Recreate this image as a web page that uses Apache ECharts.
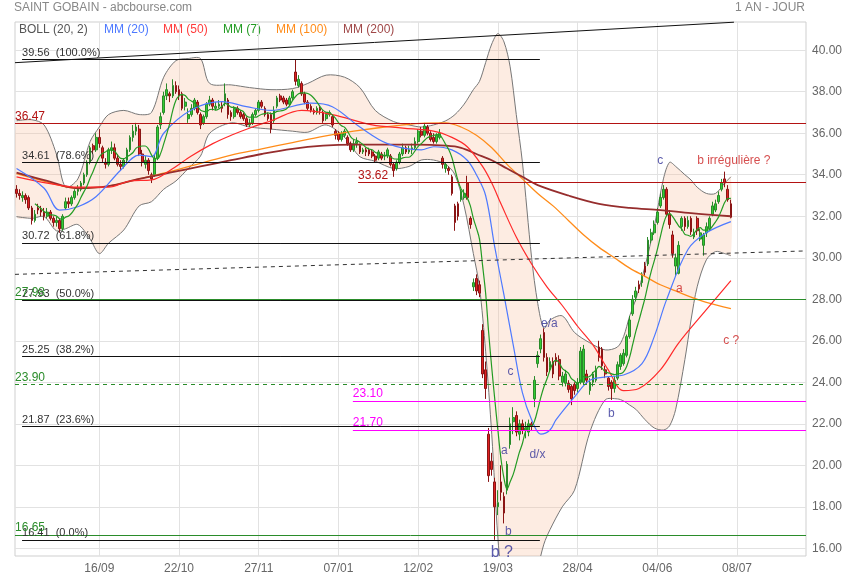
<!DOCTYPE html>
<html><head><meta charset="utf-8">
<script src="https://cdn.jsdelivr.net/npm/echarts@6/dist/echarts.min.js"></script>
<style>html,body{margin:0;padding:0;background:#fff}#c{width:855px;height:580px}</style>
</head><body><div id="c"></div>
<script>
// ---------- data ----------
const tickIdx = [27, 53, 79, 105, 131, 157, 183, 209, 235];
const tickLabels = ['16/09', '22/10', '27/11', '07/01', '12/02', '19/03', '28/04', '04/06', '08/07'];
const yTicks = [16, 18, 20, 22, 24, 26, 28, 30, 32, 34, 36, 38, 40];

// daily candles: [open, close, low, high]
const ohlc = [
[33.3,33.1,32.9,33.5],[33.1,33.0,32.8,33.3],[32.9,33.0,32.7,33.2],[33.0,32.8,32.6,33.1],[32.9,32.4,32.3,33.0],
[32.4,31.8,31.6,32.5],[31.8,32.1,31.7,32.3],[32.4,32.3,32.1,32.6],[32.3,32.2,32.0,32.5],[32.2,32.0,31.8,32.4],
[32.0,32.2,31.9,32.4],[32.2,31.9,31.8,32.3],[31.9,31.7,31.5,32.0],[31.7,31.8,31.5,32.0],[31.8,31.4,31.2,31.9],
[31.4,32.0,31.3,32.1],[32.4,32.7,32.3,32.9],[32.7,32.6,32.4,32.9],[32.6,32.9,32.5,33.0],[32.9,33.2,32.8,33.3],
[33.2,33.3,33.0,33.5],[33.3,33.6,33.2,33.7],[33.6,34.0,33.5,34.1],[34.0,34.6,33.9,34.7],[34.6,35.3,34.5,35.4],
[35.4,35.2,35.0,35.5],[35.2,35.8,35.1,36.0],[35.8,35.5,35.3,36.2],[35.3,34.8,34.6,35.4],[34.6,34.5,34.3,34.8],
[34.5,35.2,34.4,35.3],[35.2,35.3,35.0,35.6],[35.3,34.8,34.7,35.5],[34.8,34.5,34.4,35.0],[34.5,34.4,34.2,34.7],
[34.4,34.7,34.3,34.8],[34.7,35.2,34.6,35.3],[35.2,35.8,35.1,35.9],[35.8,36.1,35.6,36.4],[36.1,36.3,35.9,36.5],
[36.2,35.0,34.9,36.4],[35.0,34.6,34.4,35.2],[34.5,34.7,34.3,34.9],[34.7,34.2,34.0,34.8],[34.0,33.8,33.6,34.1],
[34.0,34.8,33.9,35.0],[34.8,36.3,34.7,36.4],[36.4,36.8,36.2,37.0],[37.0,37.8,36.9,38.0],[37.8,38.1,37.6,38.4],
[37.9,37.8,37.5,38.0],[37.8,38.3,37.7,38.6],[38.3,38.0,37.9,38.5],[38.1,37.8,37.6,38.3],[37.9,37.2,37.1,38.0],
[37.3,37.5,37.1,37.7],[36.7,36.9,36.5,37.2],[36.9,37.2,36.8,37.4],[37.2,37.6,37.1,37.7],[37.5,37.0,36.9,37.6],
[36.9,36.4,36.2,37.0],[36.5,36.8,36.4,36.9],[36.8,37.4,36.7,37.5],[37.4,37.6,37.3,37.8],[37.6,37.3,37.1,37.7],
[37.2,37.3,37.1,37.5],[37.3,37.4,37.2,37.6],[37.3,37.2,37.0,37.5],[37.5,37.9,37.3,38.4],[37.6,36.9,36.7,37.7],
[37.0,36.8,36.6,37.1],[36.8,37.2,36.7,37.3],[37.2,37.0,36.9,37.3],[37.0,36.8,36.7,37.1],[36.9,36.7,36.6,37.0],
[36.7,36.4,36.3,36.8],[36.4,36.5,36.3,36.7],[36.5,36.9,36.4,37.0],[36.9,37.1,36.8,37.2],[37.1,37.5,37.0,37.6],
[37.5,37.3,37.2,37.6],[37.2,36.9,36.8,37.3],[36.9,36.7,36.6,37.0],[36.9,36.2,36.0,37.0],[36.6,37.1,36.5,37.3],
[37.3,37.7,37.2,37.8],[37.8,37.6,37.5,37.9],[37.7,37.5,37.4,37.8],[37.6,37.4,37.3,37.7],[37.4,37.7,37.3,37.8],
[37.7,38.0,37.6,38.1],[38.95,38.5,38.3,39.56],[38.3,38.6,38.2,38.8],[38.4,37.9,37.8,38.5],[37.9,37.5,37.4,38.0],
[37.5,37.2,37.1,37.6],[37.3,37.1,37.0,37.4],[37.1,37.0,36.9,37.2],[37.0,37.2,36.9,37.3],[37.2,37.1,36.9,37.3],
[37.0,36.6,36.5,37.1],[36.7,36.9,36.6,37.0],[36.9,37.0,36.8,37.1],[36.8,36.4,36.3,36.9],[36.1,35.9,35.7,36.2],
[36.0,35.7,35.6,36.1],[35.7,36.0,35.6,36.1],[35.9,36.1,35.8,36.2],[35.8,35.5,35.4,35.9],[35.5,35.2,35.1,35.6],
[35.2,35.5,35.1,35.7],[35.5,35.6,35.3,35.8],[35.4,35.1,35.0,35.5],[35.1,35.2,35.0,35.3],[35.2,35.1,34.9,35.3],
[35.2,35.0,34.9,35.3],[35.1,34.9,34.8,35.2],[34.9,34.7,34.6,35.0],[34.8,35.1,34.7,35.2],[35.0,34.8,34.7,35.1],
[34.9,34.9,34.7,35.1],[34.9,35.2,34.8,35.3],[34.9,34.5,34.4,35.0],[34.5,34.2,33.9,34.6],[34.3,34.6,34.2,34.7],
[34.6,35.0,34.5,35.1],[35.0,35.3,34.9,35.5],[35.3,35.1,35.0,35.4],[35.1,35.2,35.0,35.4],[35.2,35.3,35.0,35.5],
[35.3,35.6,35.2,35.8],[35.6,36.1,35.5,36.2],[36.1,35.9,35.8,36.3],[35.9,36.35,35.8,36.5],[36.3,36.0,35.9,36.4],
[36.0,35.7,35.6,36.1],[35.8,35.6,35.5,36.0],[35.6,35.9,35.5,36.0],[35.8,36.0,35.7,36.2],[34.8,34.5,34.3,34.9],
[34.3,34.5,34.1,34.6],[34.3,34.2,34.0,34.4],[33.9,33.1,33.0,34.0],[32.5,31.7,31.3,32.6],[32.6,32.0,31.8,32.7],
[32.8,33.2,32.7,33.3],[32.9,33.1,32.8,33.3],[33.6,32.9,32.8,33.95],[31.9,31.6,31.4,32.0],[28.6,28.8,28.4,29.0],
[29.0,28.4,28.2,29.2],[28.7,28.3,28.1,28.9],[26.5,24.4,24.2,26.8],[24.6,23.7,23.2,25.0],[21.5,19.5,19.2,21.8],
[20.2,19.8,19.5,20.6],[19.2,18.0,16.41,19.4],[18.0,18.2,17.6,18.8],[19.2,18.7,18.3,20.0],[18.5,17.7,17.2,18.7],
[18.8,20.05,18.6,20.2],[21.0,22.0,20.8,22.3],[22.1,22.3,21.5,22.8],[22.4,21.6,21.4,22.6],[21.5,22.0,21.2,22.2],
[22.0,21.7,21.5,22.2],[21.7,21.8,21.3,22.1],[21.6,22.0,21.4,22.2],[22.0,21.9,21.7,22.1],[23.2,24.1,22.8,24.3],
[24.9,25.3,24.7,25.5],[25.6,26.1,25.4,26.3],[26.4,25.2,25.0,26.6],[25.2,24.5,24.3,25.4],[24.7,25.0,24.5,25.2],
[25.0,24.4,24.2,25.2],[25.2,25.0,24.8,25.4],[25.1,24.3,24.1,25.3],[24.0,24.3,23.8,24.5],[23.95,24.4,23.8,24.6],
[23.95,23.65,23.5,24.1],[23.8,23.2,22.9,23.9],[23.9,23.6,23.4,24.0],[23.7,24.0,23.5,24.2],[24.0,25.5,23.9,25.7],
[24.0,25.6,23.9,25.8],[24.4,24.1,23.9,24.6],[23.6,24.0,23.4,24.2],[24.0,24.4,23.8,24.5],[24.1,24.6,24.0,24.8],
[25.7,25.2,25.0,26.0],[25.6,24.8,24.6,25.7],[24.6,24.4,24.2,24.8],[24.2,23.8,23.6,24.3],[24.0,23.7,23.15,24.1],
[23.7,24.1,23.5,24.3],[24.2,24.85,24.1,25.0],[24.76,25.3,24.6,25.4],[24.9,25.4,24.8,25.6],[25.3,26.2,25.2,26.3],
[26.2,27.0,26.1,27.2],[27.3,28.0,27.2,28.2],[28.1,28.4,27.9,28.6],[28.7,28.5,28.3,28.9],[28.8,29.1,28.6,29.3],
[29.6,29.3,29.1,29.8],[29.7,30.85,29.6,31.0],[30.85,31.2,30.7,31.4],[31.2,31.6,31.1,31.8],[31.7,32.2,31.6,32.4],
[32.5,32.9,32.4,33.1],[32.9,33.3,32.8,33.5],[33.3,32.1,32.0,33.4],[32.1,31.6,31.4,32.3],[31.1,30.2,30.0,31.3],
[29.6,30.0,29.1,30.2],[29.25,30.6,29.2,30.8],[31.5,31.9,31.3,32.0],[31.9,31.5,31.3,32.0],[31.5,31.8,31.4,32.0],
[31.9,31.25,31.1,32.0],[31.0,31.2,30.9,31.4],[31.9,31.3,31.1,32.0],[30.9,31.2,30.8,31.4],[30.6,31.1,30.1,31.2],
[31.2,31.5,31.0,31.7],[31.4,31.9,31.3,32.0],[32.1,32.5,32.0,32.7],[32.3,32.6,32.2,32.8],[32.7,33.0,32.6,33.2],
[33.3,33.6,33.2,33.8],[33.8,33.6,33.4,34.15],[33.3,32.8,32.7,33.5],[32.6,31.95,31.9,32.8]
];

// moving averages / bands: [dayIndex, value]
const ma20 = [[0,34.3],[9,33.35],[14,32.3],[20,32.46],[26,32.95],[34,34.23],[40,34.95],[44,34.87],[48,36.0],[57,37.12],[67,37.52],[75,37.28],[83,37.1],[96,37.45],[103,37.28],[112,36.3],[121,35.5],[132,35.2],[136,35.35],[142,35.2],[147,34.7],[150,34.0],[153,33.0],[156,30.5],[159,28.2],[162,25.8],[165,23.5],[168,22.2],[171,21.5],[174,21.7],[176,22.2],[182,23.3],[187,24.1],[193,24.27],[198,24.35],[204,24.9],[208,26.2],[212,27.97],[219,30.4],[225,31.2],[233,31.74]];
const ma50 = [[0,33.9],[10,33.6],[20,33.4],[30,33.4],[37,33.7],[44,33.75],[50,34.2],[57,34.9],[64,35.5],[70,35.9],[77,36.3],[83,36.6],[93,37.1],[103,36.9],[116,36.4],[126,36.25],[136,36.1],[142,35.8],[147,35.35],[152,34.4],[155,33.6],[158,32.6],[163,31.0],[168,29.7],[173,28.6],[178,27.7],[183,26.7],[188,25.8],[193,24.6],[198,23.6],[203,23.7],[210,24.6],[216,25.9],[225,27.5],[233,28.9]];
const ma100 = [[0,34.05],[10,33.65],[20,33.35],[30,33.45],[40,33.8],[50,34.15],[60,34.55],[70,34.95],[80,35.25],[90,35.55],[100,35.85],[110,36.1],[120,36.3],[132,36.48],[140,36.5],[145,36.3],[150,35.9],[155,35.3],[160,34.5],[165,33.8],[170,33.1],[175,32.5],[180,31.8],[185,31.1],[190,30.5],[195,30.0],[200,29.5],[205,29.1],[210,28.7],[215,28.4],[220,28.1],[225,27.85],[233,27.55]];
const ma200 = [[0,34.1],[10,33.7],[20,33.35],[30,33.45],[40,33.8],[50,34.1],[60,34.4],[70,34.7],[80,35.0],[90,35.25],[100,35.4],[110,35.45],[120,35.45],[130,35.45],[140,35.4],[145,35.3],[150,35.0],[155,34.7],[160,34.3],[165,33.9],[170,33.5],[180,33.0],[190,32.6],[200,32.4],[210,32.3],[220,32.15],[233,32.0]];
const bbIdx   = [0,5,9,13,16,20,24,27,30,35,40,44,48,52,56,60,63,70,76,83,90,95,101,107,112,117,123,128,132,136,140,143,146,149,151,153,155,157,159,161,163,165,168,170,172,174,178,182,187,192,196,198,200,202,205,208,211,213,215,218,220,222,225,228,231,233];
const bbUpper = [36.6,36.65,36.4,35.0,33.4,33.8,35.6,36.3,36.9,37.1,36.9,37.0,38.7,39.5,39.6,39.6,38.4,38.33,38.2,38.1,38.15,38.4,38.8,38.7,38.2,37.1,36.56,36.4,36.3,36.4,36.6,36.9,37.4,38.1,38.5,39.4,40.3,40.8,40.4,39.2,36.9,34.6,30.0,27.8,26.6,27.0,27.2,26.4,25.9,25.56,25.7,26.2,27.2,28.0,29.6,31.5,33.8,34.6,34.4,34.0,33.75,33.4,33.1,33.1,33.6,33.9];
const bbLower = [31.98,31.9,31.98,31.3,31.4,31.6,30.9,30.2,30.7,31.34,32.5,32.7,33.3,33.7,34.3,34.9,36.0,36.5,36.3,36.2,36.1,36.05,36.4,35.8,34.87,34.65,34.3,34.4,34.71,34.71,34.5,34.0,32.5,30.2,28.6,25.5,21.5,16.5,13.5,11.5,11.0,11.5,13.5,15.0,16.2,16.9,18.0,18.8,21.6,23.15,23.2,23.1,22.9,22.7,22.2,21.8,21.7,21.9,22.7,25.1,27.0,28.6,29.9,30.3,30.2,30.1];

// horizontal levels
const fibValues = [39.56, 34.61, 30.72, 27.93, 25.25, 21.87, 16.41];
const fibLabels = ['39.56  (100.0%)', '34.61  (78.6%)', '30.72  (61.8%)', '27.93  (50.0%)', '25.25  (38.2%)', '21.87  (23.6%)', '16.41  (0.0%)'];
const fibSpan = [1.8, 170.7];
const levelValues = [36.47, 27.98, 23.90, 16.65, 33.62, 23.10, 21.70];
const levelLabels = ['36.47', '27.98', '23.90', '16.65', '33.62', '23.10', '21.70'];
const levelStart = [null, null, null, null, 111.4, 109.7, 109.7];
const levelColors = ['#b31212', '#2a8c2a', '#2a8c2a', '#2a8c2a', '#b31212', '#ff00ff', '#ff00ff'];
const levelDashed = [false, false, true, false, false, false, false];
const trendDashed = [[-0.5, 29.2], [257.5, 30.33]];
const trendSolid = [[-0.5, 39.4], [234, 41.35]];
const priceBoxes = [39.56, 31.95, 16.41];
const priceBoxColors = ['#008000', '#3366ff', '#c00000'];

// wave annotations
const notes = [
  ['c', 210, 34.67, '#333399'], ['b irrégulière ?', 222, 34.67, '#cc2222'], ['a', 216.2, 28.5, '#cc2222'],
  ['c ?', 233.1, 26.0, '#cc2222'], ['b', 194, 22.48, '#333399'], ['e/a', 173.8, 26.8, '#333399'],
  ['c', 161.1, 24.5, '#333399'], ['a', 159.1, 20.69, '#333399'], ['d/x', 169.9, 20.5, '#333399'],
  ['b', 160.4, 16.79, '#333399'], ['b ?', 158.3, 15.78, '#333399']
];

// ---------- build ----------
const FONT = 'Arial, "Liberation Sans", sans-serif';
const candles = ohlc.map((d, i) => [i, d[0], d[1], d[2], d[3]]);
const closes = ohlc.map(d => d[1]);
const ma7 = [];
for (let i = 6; i < closes.length; i++) {
  let s = 0; for (let k = i - 6; k <= i; k++) s += closes[k];
  ma7.push([i, +(s / 7).toFixed(3)]);
}
const bbData = bbIdx.map((x, k) => [x, bbUpper[k], bbLower[k]]);

const ml = [];
fibValues.forEach((v, k) => ml.push([
  {coord: [fibSpan[0], v], lineStyle: {color: '#111', width: 1, type: 'solid'},
   label: {show: true, position: 'insideStartTop', formatter: fibLabels[k], color: '#333', fontSize: 11, fontFamily: FONT, distance: [0, 1]}},
  {coord: [fibSpan[1], v]}
]));
levelValues.forEach((v, k) => {
  const st = {lineStyle: {color: levelColors[k], width: 1, type: levelDashed[k] ? [4, 4] : 'solid'},
    label: {show: true, position: 'insideStartTop', formatter: levelLabels[k], color: levelColors[k], fontSize: 12, fontFamily: FONT, distance: [0, 1]}};
  if (levelStart[k] === null) ml.push(Object.assign({yAxis: v}, st));
  else ml.push([Object.assign({coord: [levelStart[k], v]}, st), {coord: [257.5, v]}]);
});
ml.push([{coord: trendDashed[0], lineStyle: {color: '#333', width: 1, type: [4, 4]}, label: {show: false}}, {coord: trendDashed[1]}]);
ml.push([{coord: trendSolid[0], lineStyle: {color: '#111', width: 1, type: 'solid'}, label: {show: false}}, {coord: trendSolid[1]}]);
priceBoxes.forEach((v, k) => ml.push({yAxis: v, lineStyle: {opacity: 0},
  label: {show: true, position: 'end', formatter: v.toFixed(2), color: '#fff', backgroundColor: priceBoxColors[k],
    padding: [3, 12, 2, 3], fontSize: 12, fontFamily: FONT, distance: 2}}));

const noteData = notes.map(n => ({value: [n[1], n[2]], name: n[0],
  label: {color: n[3], fontSize: n[0] === 'b ?' ? 16 : 12,
    position: n[0] === 'b irrégulière ?' ? 'right' : 'inside', distance: 0}}));

const chart = echarts.init(document.getElementById('c'), null, {renderer: 'canvas'});
const lineS = (name, data, color, w, z) => ({name, type: 'line', data, symbol: 'none', smooth: 0.35, connectNulls: true,
  lineStyle: {color, width: w}, z, silent: true});

chart.setOption({
  animation: false,
  backgroundColor: '#fff',
  textStyle: {fontFamily: FONT},
  grid: {left: 15, right: 49, top: 22, bottom: 24, show: true, borderColor: '#cfcfcf', borderWidth: 1},
  xAxis: {type: 'value', min: -0.5, max: 257.5,
    axisLine: {show: false}, axisTick: {show: false, customValues: tickIdx},
    axisLabel: {customValues: tickIdx, formatter: v => tickLabels[tickIdx.indexOf(Math.round(v))] || '', color: '#666', fontSize: 12, margin: 7, fontFamily: FONT},
    splitLine: {show: true, lineStyle: {color: '#e2e2e2', width: 1}}},
  yAxis: {type: 'value', position: 'right', min: 15.63, max: 41.36, scale: true,
    axisLine: {show: false}, axisTick: {show: false, customValues: yTicks},
    axisLabel: {customValues: yTicks, formatter: v => v.toFixed(2), color: '#666', fontSize: 12, margin: 6, fontFamily: FONT, padding: [0, 0, 6, 0]},
    splitLine: {show: true, lineStyle: {color: '#e2e2e2', width: 1}}},
  graphic: [
    {type: 'text', left: 14, top: 2, style: {text: 'SAINT GOBAIN - abcbourse.com', fill: '#888', font: '12px ' + FONT}},
    {type: 'text', right: 50, top: 2, style: {text: '1 AN - JOUR', fill: '#888', font: '12px ' + FONT}},
    {type: 'text', left: 19, top: 24, style: {text: 'BOLL (20, 2)', fill: '#555', font: '12px ' + FONT}},
    {type: 'text', left: 104, top: 24, style: {text: 'MM (20)', fill: '#4d79ff', font: '12px ' + FONT}},
    {type: 'text', left: 163, top: 24, style: {text: 'MM (50)', fill: '#ff3b3b', font: '12px ' + FONT}},
    {type: 'text', left: 223, top: 24, style: {text: 'MM (7)', fill: '#239b23', font: '12px ' + FONT}},
    {type: 'text', left: 276, top: 24, style: {text: 'MM (100)', fill: '#ff8c1a', font: '12px ' + FONT}},
    {type: 'text', left: 343, top: 24, style: {text: 'MM (200)', fill: '#a04848', font: '12px ' + FONT}}
  ],
  series: [
    {name: 'BOLL', type: 'custom', data: bbData, encode: {x: 0, y: [1, 2]}, clip: true, silent: true, z: 1,
      renderItem: (params, api) => {
        if (params.dataIndex !== 0) return null;
        const up = bbIdx.map((x, k) => api.coord([x, bbUpper[k]]));
        const lo = bbIdx.map((x, k) => api.coord([x, bbLower[k]]));
        return {type: 'group', children: [
          {type: 'polygon', shape: {points: up.concat(lo.slice().reverse()), smooth: 0.3}, style: {fill: 'rgba(248,185,150,0.28)', stroke: null}},
          {type: 'polyline', shape: {points: up, smooth: 0.3}, style: {stroke: '#777', lineWidth: 1, fill: null}},
          {type: 'polyline', shape: {points: lo, smooth: 0.3}, style: {stroke: '#777', lineWidth: 1, fill: null}}
        ]};
      }},
    {name: 'cours', type: 'candlestick', data: candles, barWidth: 2.2, z: 3, silent: true,
      itemStyle: {color: '#33cc33', color0: '#e02020', borderColor: '#2a8a2a', borderColor0: '#8a1515', borderWidth: 1},
      markLine: {silent: true, symbol: ['none', 'none'], animation: false, data: ml, z: 6}},
    lineS('MM100', ma100, '#ff8c1a', 1.3, 4),
    lineS('MM200', ma200, '#962d2d', 1.8, 4),
    lineS('MM50', ma50, '#ff2a2a', 1.2, 4),
    lineS('MM20', ma20, '#4d79ff', 1.2, 4),
    lineS('MM7', ma7, '#239b23', 1.2, 4),
    {name: 'notes', type: 'scatter', data: noteData, symbolSize: 0, silent: true, z: 7,
      label: {show: true, formatter: p => p.name, fontFamily: FONT}}
  ]
});
</script>
</body></html>
